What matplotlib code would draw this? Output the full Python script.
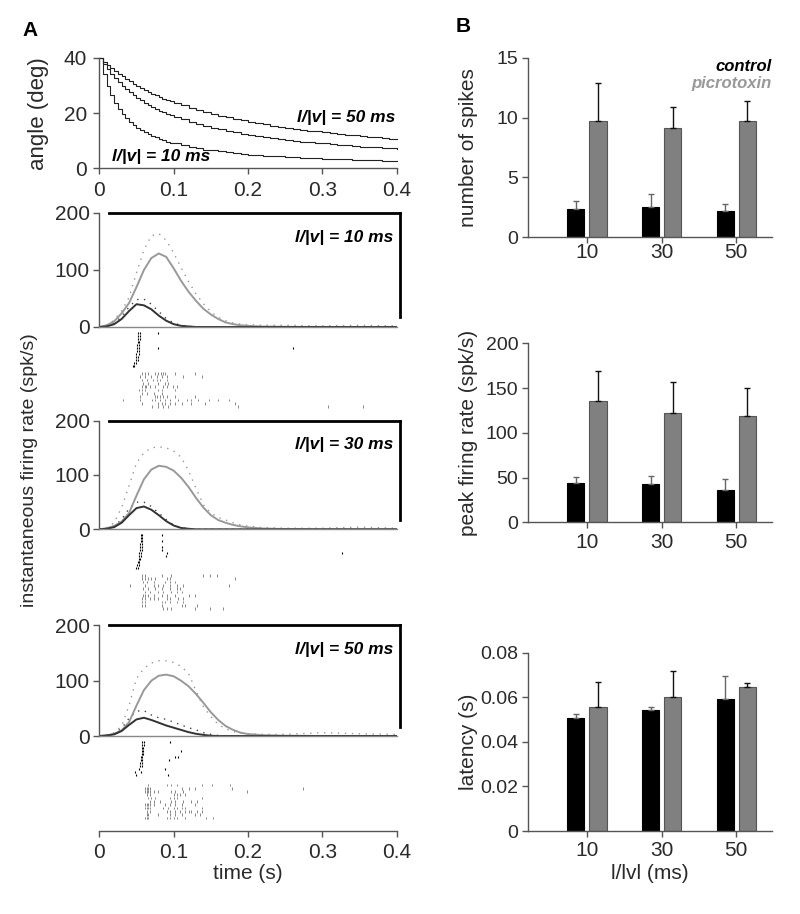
import matplotlib
matplotlib.use("Agg")
import matplotlib.pyplot as plt
import numpy as np

plt.rcParams['font.family'] = ['Liberation Sans', 'DejaVu Sans']

# ---- datos panel A: angulo del estimulo (deg)
t_angle = [0.000, 0.005, 0.010, 0.015, 0.020, 0.025, 0.030, 0.035, 0.040, 0.045,
           0.050, 0.055, 0.060, 0.065, 0.070, 0.075, 0.080, 0.085, 0.090, 0.095,
           0.10, 0.11, 0.12, 0.13, 0.14, 0.15, 0.16, 0.17, 0.18, 0.19,
           0.20, 0.21, 0.22, 0.23, 0.24, 0.25, 0.26, 0.27, 0.28, 0.29,
           0.30, 0.31, 0.32, 0.33, 0.34, 0.35, 0.36, 0.37, 0.38, 0.39, 0.40]
angle_10 = [40.0, 34.2, 29.9, 26.5, 23.8, 21.6, 19.7, 18.2, 16.9, 15.7,
            14.7, 13.8, 13.0, 12.3, 11.7, 11.2, 10.6, 10.2, 9.7, 9.3,
            9.0, 8.3, 7.8, 7.3, 6.8, 6.5, 6.1, 5.8, 5.5, 5.3,
            5.0, 4.8, 4.6, 4.5, 4.3, 4.1, 4.0, 3.9, 3.7, 3.6,
            3.5, 3.4, 3.3, 3.2, 3.1, 3.0, 3.0, 2.9, 2.8, 2.7, 2.7]
angle_30 = [40.0, 37.9, 36.0, 34.2, 32.7, 31.2, 29.9, 28.7, 27.5, 26.5,
            25.5, 24.6, 23.8, 23.0, 22.3, 21.6, 20.9, 20.3, 19.7, 19.2,
            18.7, 17.7, 16.9, 16.1, 15.4, 14.7, 14.1, 13.6, 13.0, 12.6,
            12.1, 11.7, 11.3, 11.0, 10.6, 10.3, 10.0, 9.7, 9.5, 9.2,
            9.0, 8.7, 8.5, 8.3, 8.1, 7.9, 7.8, 7.6, 7.4, 7.3, 7.1]
angle_50 = [40.0, 38.7, 37.5, 36.3, 35.3, 34.2, 33.3, 32.4, 31.5, 30.7,
            29.9, 29.1, 28.4, 27.8, 27.1, 26.5, 25.9, 25.3, 24.8, 24.3,
            23.8, 22.9, 22.0, 21.2, 20.4, 19.7, 19.1, 18.5, 17.9, 17.4,
            16.9, 16.4, 15.9, 15.5, 15.1, 14.7, 14.3, 14.0, 13.7, 13.4,
            13.0, 12.8, 12.5, 12.2, 12.0, 11.7, 11.5, 11.3, 11.0, 10.8, 10.6]

# ---- tasa de disparo instantanea (spk/s)
t_rate = [0.00, 0.01, 0.02, 0.03, 0.04, 0.05, 0.06, 0.07, 0.08, 0.09,
          0.10, 0.11, 0.12, 0.13, 0.14, 0.15, 0.16, 0.17, 0.18, 0.19,
          0.20, 0.22, 0.25, 0.30, 0.35, 0.40]
pic_10 = [0, 3, 10, 24, 42, 70, 100, 121, 129, 123, 103, 81, 62, 46, 32, 22,
          14, 8, 5, 3, 2, 0.8, 0.3, 0, 0, 0]
pic_10_sd = [0, 3, 12, 28, 52, 95, 135, 160, 164, 152, 130, 104, 80, 58, 41,
             27, 17, 11, 7, 5, 4, 3, 3, 2, 3, 2]
ctl_10 = [0, 1, 5, 14, 28, 40, 38, 31, 20, 11, 5, 2, 1, 0, 0, 0, 0, 0, 0, 0,
          0, 0, 0, 0, 0, 0]
ctl_10_sd = [0, 2, 7, 18, 35, 48, 49, 40, 27, 15, 7, 3, 1, 0.5, 0, 0, 0, 0,
             0, 0, 0, 0, 0, 0, 0, 0]

pic_30 = [0, 2, 6, 14, 30, 62, 92, 110, 117, 115, 108, 95, 78, 58, 40, 26,
          17, 12, 8, 5.5, 3.5, 1.5, 0.5, 0, 0, 0]
pic_30_sd = [0, 3, 12, 40, 80, 122, 141, 150, 152, 150, 144, 133, 108, 76, 45,
             30, 22, 17, 12, 8, 6, 3, 2, 2, 4, 2]
ctl_30 = [0, 1, 4, 12, 26, 39, 42, 36, 26, 15, 7, 2.5, 1, 0, 0, 0, 0, 0, 0,
          0, 0, 0, 0, 0, 0, 0]
ctl_30_sd = [0, 2, 6, 18, 38, 50, 50, 42, 30, 18, 8, 3, 1, 0, 0, 0, 0, 0, 0,
             0, 0, 0, 0, 0, 0, 0]

pic_50 = [0, 1, 4, 10, 25, 55, 83, 100, 109, 111, 108, 100, 90, 76, 60, 43,
          29, 18, 11, 6, 3.5, 1.5, 0.5, 0, 0, 0]
pic_50_sd = [0, 2, 6, 18, 55, 104, 122, 132, 136, 136, 133, 126, 113, 82, 53,
             35, 21, 13, 8, 5, 4, 3, 3, 6, 4, 3]
ctl_50 = [0, 1, 3, 9, 20, 30, 33, 29, 24, 19, 15, 11, 7, 4, 2, 0.5, 0, 0, 0,
          0, 0, 0, 0, 0, 0, 0]
ctl_50_sd = [0, 1, 4, 14, 32, 45, 46, 38, 33, 30, 25, 20, 15, 11, 6, 3, 1, 0,
             0, 0, 0, 0, 0, 0, 0, 0]

# ---- rasters (tiempos de spike en s, un ensayo por lista)
ctl_raster_10 = [[0.052, 0.055, 0.079], [0.052, 0.055], [0.052, 0.055],
                 [0.052, 0.054], [0.051, 0.054], [0.051, 0.054, 0.079, 0.261],
                 [0.051, 0.053], [0.050, 0.053], [0.050, 0.052],
                 [0.049, 0.052], [0.047, 0.050], [0.045, 0.047]]
pic_raster_10 = [[0.057, 0.061, 0.066, 0.075, 0.079, 0.083, 0.086, 0.089, 0.102, 0.129],
                 [0.055, 0.061, 0.070, 0.077, 0.084, 0.091, 0.113, 0.138],
                 [0.057, 0.064, 0.072, 0.077, 0.082, 0.091],
                 [0.059, 0.066, 0.079, 0.088, 0.092],
                 [0.057, 0.061, 0.063, 0.068, 0.075, 0.086, 0.091, 0.099, 0.104],
                 [0.053, 0.057, 0.061, 0.079, 0.084, 0.102],
                 [0.057, 0.064, 0.073, 0.084],
                 [0.055, 0.075, 0.077, 0.082, 0.086, 0.091, 0.102, 0.129],
                 [0.032, 0.055, 0.071, 0.075, 0.082, 0.088, 0.095, 0.106, 0.118,
                  0.124, 0.133, 0.147, 0.160, 0.174],
                 [0.057, 0.079, 0.084, 0.088, 0.095, 0.102, 0.111, 0.124, 0.142, 0.183],
                 [0.071, 0.079, 0.086, 0.093, 0.187, 0.308, 0.355]]

ctl_raster_30 = [[0.056, 0.058, 0.084], [0.056, 0.058], [0.056, 0.058, 0.084],
                 [0.055, 0.057], [0.055, 0.057, 0.084], [0.055, 0.057, 0.084],
                 [0.054, 0.056, 0.091, 0.326], [0.054, 0.056, 0.090],
                 [0.053, 0.055], [0.052, 0.054], [0.051, 0.053], [0.050, 0.052]]
pic_raster_30 = [[0.057, 0.062, 0.084, 0.097, 0.140, 0.149, 0.158],
                 [0.057, 0.062, 0.066, 0.070, 0.075, 0.091, 0.095, 0.183],
                 [0.059, 0.064, 0.073, 0.088, 0.095, 0.102],
                 [0.041, 0.062, 0.073, 0.079, 0.086, 0.095, 0.104, 0.113, 0.174],
                 [0.059, 0.066, 0.075, 0.084, 0.095, 0.104, 0.109],
                 [0.062, 0.068, 0.079, 0.086, 0.097, 0.104, 0.111],
                 [0.059, 0.062, 0.066, 0.073, 0.084, 0.091, 0.102, 0.120, 0.129],
                 [0.057, 0.062, 0.068, 0.073, 0.079, 0.091, 0.095, 0.106, 0.113],
                 [0.057, 0.062, 0.084, 0.088, 0.095, 0.104, 0.113],
                 [0.057, 0.062, 0.084, 0.111, 0.115, 0.131],
                 [0.086, 0.091, 0.097, 0.129, 0.149, 0.167]]

ctl_raster_50 = [[0.058, 0.060, 0.095], [0.058, 0.060], [0.057, 0.059],
                 [0.057, 0.059, 0.110], [0.057, 0.059], [0.056, 0.058, 0.102, 0.106],
                 [0.056, 0.058, 0.094], [0.055, 0.057], [0.055, 0.057],
                 [0.054, 0.088], [0.048, 0.056], [0.050, 0.092]]
pic_raster_50 = [[0.066, 0.091, 0.097, 0.104, 0.138, 0.151, 0.176],
                 [0.062, 0.064, 0.066, 0.068, 0.111, 0.120, 0.129, 0.178, 0.274],
                 [0.062, 0.064, 0.066, 0.068, 0.073, 0.079, 0.097, 0.102, 0.113, 0.198],
                 [0.064, 0.068, 0.100, 0.104, 0.109, 0.115],
                 [0.066, 0.070, 0.075, 0.095, 0.100, 0.104, 0.138],
                 [0.068, 0.073, 0.082, 0.097, 0.102, 0.113, 0.124, 0.131],
                 [0.062, 0.064, 0.066, 0.068, 0.073, 0.088, 0.095, 0.102, 0.111, 0.129],
                 [0.062, 0.064, 0.066, 0.068, 0.086, 0.093, 0.100, 0.104, 0.111, 0.115, 0.138],
                 [0.064, 0.068, 0.091, 0.095, 0.102, 0.109, 0.115, 0.120, 0.124, 0.131, 0.138],
                 [0.064, 0.066, 0.079, 0.095, 0.102, 0.111, 0.129, 0.135],
                 [0.062, 0.064, 0.066, 0.091, 0.095, 0.100, 0.104, 0.115, 0.144, 0.153]]

# ---- panel B: barras (media y error superior)
lv_labels = ['10', '30', '50']
spikes_ctl = [2.37, 2.49, 2.18]
spikes_ctl_err = [0.67, 1.09, 0.59]
spikes_pic = [9.72, 9.16, 9.72]
spikes_pic_err = [3.16, 1.71, 1.65]
peak_ctl = [43.9, 42.8, 35.7]
peak_ctl_err = [6.4, 9.3, 12.7]
peak_pic = [135.9, 121.8, 118.8]
peak_pic_err = [32.8, 34.6, 31.2]
lat_ctl = [0.0506, 0.0542, 0.0591]
lat_ctl_err = [0.0019, 0.0016, 0.0103]
lat_pic = [0.0556, 0.0600, 0.0646]
lat_pic_err = [0.0114, 0.0118, 0.0019]

TXT = '#2a2a2a'
SPN = '#555555'
GRAY = '#999999'
BARGRAY = '#808080'
FS = 15

fig = plt.figure(figsize=(8, 9.14), dpi=100)


def box(l, t, r, b):
    return [l / 800, 1 - b / 914, (r - l) / 800, (b - t) / 914]


def clean(ax, left=True, bottom=True):
    for s in ['top', 'right']:
        ax.spines[s].set_visible(False)
    ax.spines['left'].set_visible(left)
    ax.spines['bottom'].set_visible(bottom)
    for s in ['left', 'bottom']:
        ax.spines[s].set_color(SPN)
        ax.spines[s].set_linewidth(1)
    ax.tick_params(colors=SPN, labelcolor=TXT, labelsize=FS, length=4,
                   width=1, direction='out', pad=3)
    ax.patch.set_alpha(0)


# panel A: angulo
ax = fig.add_axes(box(99.3, 58, 396.7, 168.3))
clean(ax)
ax.step(t_angle, angle_10, where='post', color='#222222', lw=0.8, clip_on=False)
ax.step(t_angle, angle_30, where='post', color='#222222', lw=0.8, clip_on=False)
ax.step(t_angle, angle_50, where='post', color='#222222', lw=0.8, clip_on=False)
ax.set_xlim(0, 0.4)
ax.set_ylim(0, 40)
ax.set_xticks([0, 0.1, 0.2, 0.3, 0.4])
ax.set_xticklabels(['0', '0.1', '0.2', '0.3', '0.4'])
ax.tick_params(axis='x', pad=5)
ax.set_yticks([0, 20, 40])
ax.tick_params(axis='y', pad=5)
ax.set_ylabel('angle (deg)', fontsize=16, color=TXT)
ax.yaxis.set_label_coords(-0.17, 0.5)
ax.text(0.398, 18.5, 'l/|v| = 50 ms', ha='right', va='center', fontsize=12.5,
        fontweight='bold', style='italic')
ax.text(0.017, 4.2, 'l/|v| = 10 ms', ha='left', va='center', fontsize=12.5,
        fontweight='bold', style='italic')

rate_sets = [(pic_10, pic_10_sd, ctl_10, ctl_10_sd, '10'),
             (pic_30, pic_30_sd, ctl_30, ctl_30_sd, '30'),
             (pic_50, pic_50_sd, ctl_50, ctl_50_sd, '50')]
rate_boxes = [(213, 327), (420.7, 529.3), (625.4, 736)]
raster_sets = [(ctl_raster_10, pic_raster_10), (ctl_raster_30, pic_raster_30),
               (ctl_raster_50, pic_raster_50)]
raster_boxes = [(330, 410), (532, 612), (739, 831)]

for k in range(3):
    pic, pic_sd, ctl, ctl_sd, lab = rate_sets[k]
    top, bot = rate_boxes[k]
    ax = fig.add_axes(box(99.3, top, 396.7, bot))
    clean(ax)
    ax.plot(t_rate, pic_sd, color=GRAY, lw=1, ls=(0, (1, 4)))
    ax.plot(t_rate, ctl_sd, color='#444444', lw=1, ls=(0, (1, 4)))
    ax.plot(t_rate, pic, color=GRAY, lw=1.4)
    ax.plot(t_rate, ctl, color='#333333', lw=1.4)
    ax.set_xlim(0, 0.4)
    ax.set_ylim(0, 200)
    ax.set_xticks([])
    ax.set_yticks([0, 100, 200])
    ax.spines['bottom'].set_color('#888888')
    ax.spines['top'].set_visible(True)
    ax.spines['top'].set_color('k')
    ax.spines['top'].set_linewidth(2)
    ax.spines['top'].set_bounds(0.013, 0.405)
    ax.spines['right'].set_visible(True)
    ax.spines['right'].set_color('k')
    ax.spines['right'].set_linewidth(2)
    ax.spines['right'].set_position(('data', 0.404))
    ax.spines['right'].set_bounds(17, 200)
    ax.text(0.395, 157, 'l/|v| = %s ms' % lab, ha='right', va='center',
            fontsize=12.5, fontweight='bold', style='italic')

    ctl_r, pic_r = raster_sets[k]
    rtop, rbot = raster_boxes[k]
    rx = fig.add_axes(box(99.3, rtop, 396.7, rbot))
    nunits = (rbot - rtop) / 3.0
    rx.set_xlim(0, 0.4)
    rx.set_ylim(nunits - 1, -1)
    rx.eventplot(ctl_r, lineoffsets=list(range(len(ctl_r))), linelengths=0.9,
                 colors='k', linewidths=0.8)
    g0 = 13.5 if k < 2 else 14.3
    rx.eventplot(pic_r, lineoffsets=[g0 + 1.1 * i for i in range(len(pic_r))],
                 linelengths=0.9, colors='#888888', linewidths=0.7)
    if k < 2:
        rx.axis('off')
    else:
        clean(rx, left=False)
        rx.set_yticks([])
        rx.set_xticks([0, 0.1, 0.2, 0.3, 0.4])
        rx.set_xticklabels(['0', '0.1', '0.2', '0.3', '0.4'])
        rx.tick_params(axis='x', pad=5)
        rx.set_xlabel('time (s)', fontsize=FS, color=TXT, labelpad=1)

fig.text(30 / 800, 1 - 470 / 914, 'instantaneous firing rate (spk/s)',
         rotation=90, ha='center', va='center', fontsize=14, color=TXT)

# panel B: barras
xpos = np.arange(3)
bar_sets = [(spikes_ctl, spikes_ctl_err, spikes_pic, spikes_pic_err,
             (58, 237), 15, [0, 5, 10, 15], ['0', '5', '10', '15'],
             'number of spikes', 0.5),
            (peak_ctl, peak_ctl_err, peak_pic, peak_pic_err,
             (343.3, 522.3), 200, [0, 50, 100, 150, 200],
             ['0', '50', '100', '150', '200'], 'peak firing rate (spk/s)', 4),
            (lat_ctl, lat_ctl_err, lat_pic, lat_pic_err,
             (652.7, 831), 0.08, [0, 0.02, 0.04, 0.06, 0.08],
             ['0', '0.02', '0.04', '0.06', '0.08'], 'latency (s)', 3)]
for k, (c, ce, p, pe, (bt, bb), ymax, yt, ytl, ylab, xpad) in enumerate(bar_sets):
    ax = fig.add_axes(box(528, bt, 772, bb))
    clean(ax)
    ax.bar(xpos - 0.148, c, 0.23, color='black', edgecolor='black', lw=0.8)
    ax.bar(xpos + 0.148, p, 0.23, color=BARGRAY, edgecolor='#555555', lw=0.8)
    ax.errorbar(xpos - 0.148, c, yerr=[np.zeros(3), ce], fmt='none',
                ecolor='#666666', elinewidth=1, capsize=2.5, capthick=1)
    ax.errorbar(xpos + 0.148, p, yerr=[np.zeros(3), pe], fmt='none',
                ecolor='#111111', elinewidth=1, capsize=2.5, capthick=1)
    ax.set_xlim(-0.79, 2.48)
    ax.set_ylim(0, ymax)
    ax.set_xticks(xpos)
    ax.set_xticklabels(lv_labels)
    ax.tick_params(axis='x', pad=xpad)
    ax.set_yticks(yt)
    ax.set_yticklabels(ytl)
    ax.tick_params(axis='y', labelsize=14)
    ax.set_ylabel(ylab, fontsize=FS, color=TXT)
    ax.yaxis.set_label_coords(-0.205, 0.5)
    if k == 0:
        ax.text(2.47, 14.3, 'control', ha='right', va='center', fontsize=12,
                fontweight='bold', style='italic', color='k')
        ax.text(2.47, 12.9, 'picrotoxin', ha='right', va='center', fontsize=12,
                fontweight='bold', style='italic', color=GRAY)
    if k == 2:
        ax.set_xlabel('l/lvl (ms)', fontsize=FS, color=TXT, labelpad=3)

fig.text(30 / 800, 1 - 30 / 914, 'A', fontsize=15, fontweight='bold',
         ha='center', va='center')
fig.text(463 / 800, 1 - 27 / 914, 'B', fontsize=15, fontweight='bold',
         ha='center', va='center')

fig.savefig('out.png', dpi=100)
